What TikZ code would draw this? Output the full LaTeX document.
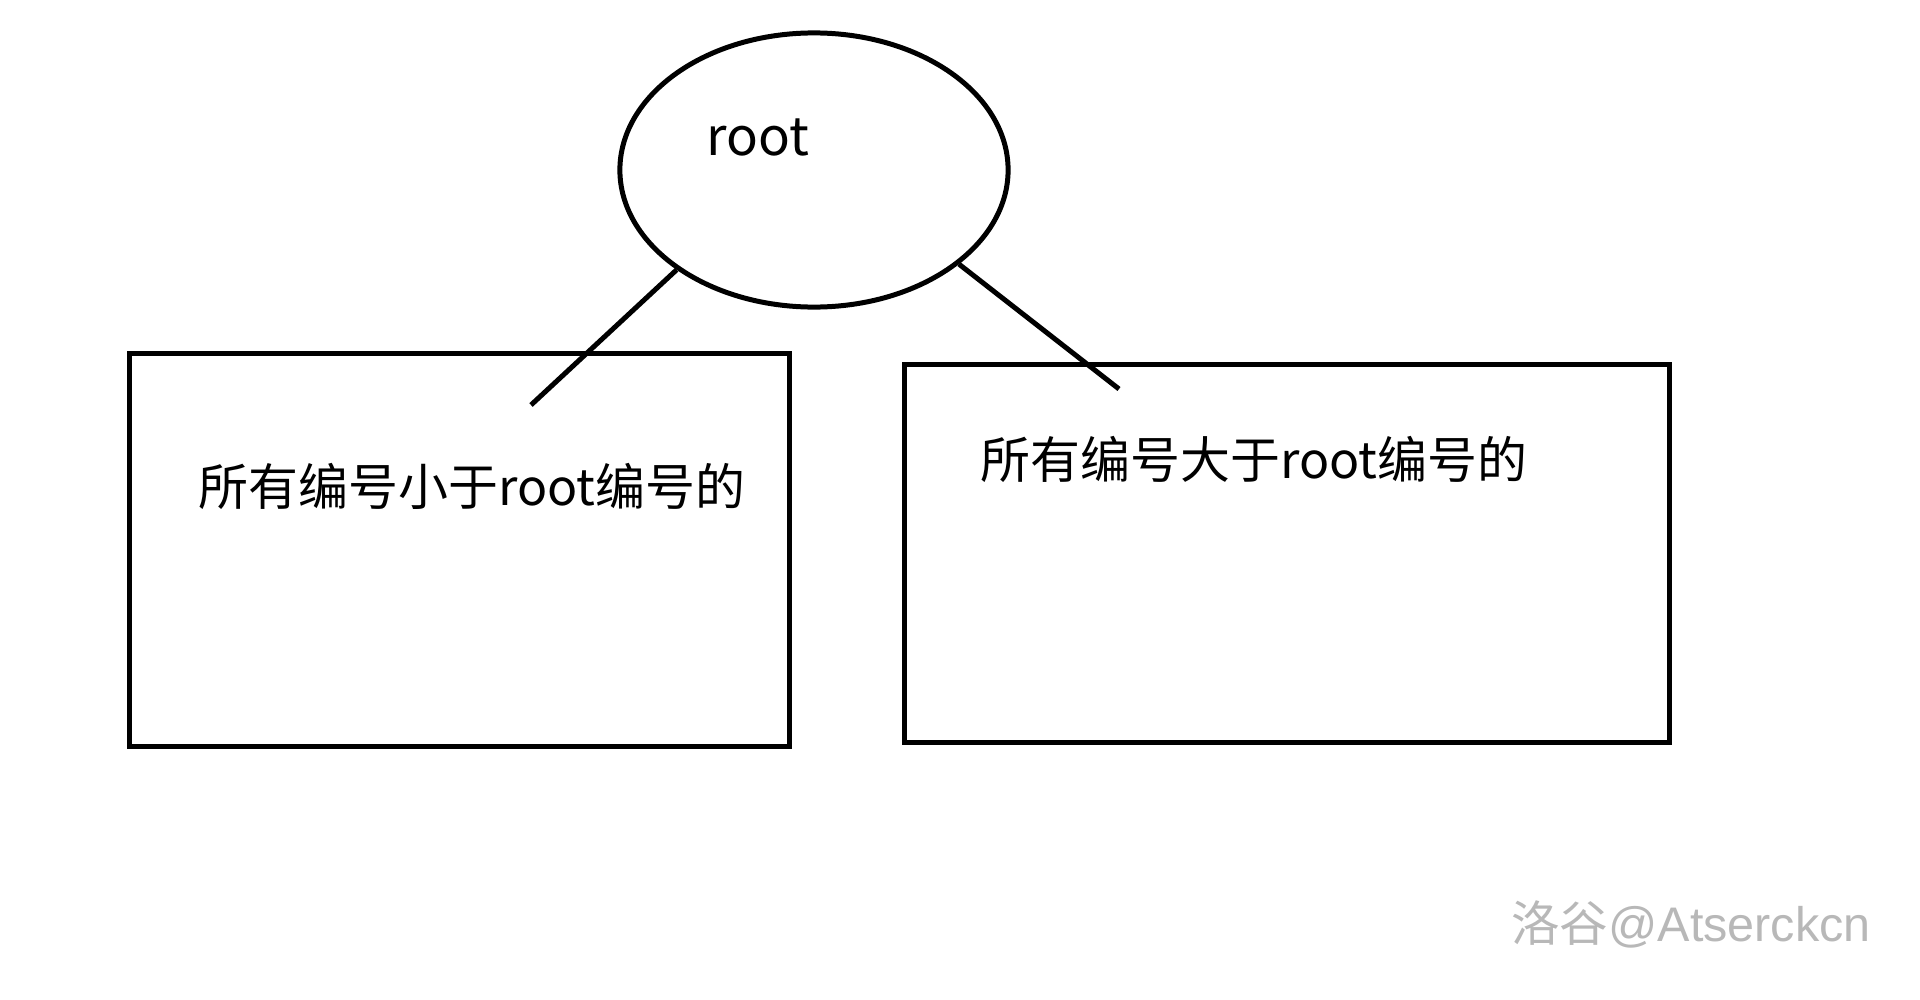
\documentclass[tikz,border=0pt]{standalone}
\usepackage{fontspec}
\setmainfont{Noto Sans CJK SC}
\newfontfamily\wmlatin{Liberation Sans}
\usetikzlibrary{shapes.geometric}
\tikzset{
  part/.style={draw, line width=1.42pt, minimum width=#1, inner sep=0pt},
  lbl/.style={inner sep=0pt, font=\fontsize{14.2pt}{17pt}\selectfont}
}
\begin{document}
\begin{tikzpicture}[x=0.01cm, y=-0.01cm]
  \useasboundingbox (0,0) rectangle (1920,1000);
  \node[part=3.88cm, ellipse, minimum height=2.74cm] (rootcirc) at (814,170) {};
  \node[lbl, font=\fontsize{15pt}{18pt}\selectfont] (rootlbl) at (758,137) {root};
  \node[part=6.59cm, rectangle, minimum height=3.92cm] (lbox) at (459.5,550) {};
  \node[part=7.64cm, rectangle, minimum height=3.77cm] (rbox) at (1287,553.5) {};
  \node[lbl] (ltext) at (472,486) {所有编号小于root编号的};
  \node[lbl] (rtext) at (1254,459) {所有编号大于root编号的};
  \coordinate (lend) at (531,405);
  \coordinate (rend) at (1119,389);
  \draw[line width=1.42pt] (rootcirc.216) -- (lend);
  \draw[line width=1.42pt] (rootcirc.327) -- (rend);
  % watermark
  \node[inner sep=0pt, text=black!28, font=\fontsize{13.8pt}{16pt}\selectfont] (mark) at (1691,924) {洛谷{\wmlatin @Atserckcn}};
\end{tikzpicture}
\end{document}
